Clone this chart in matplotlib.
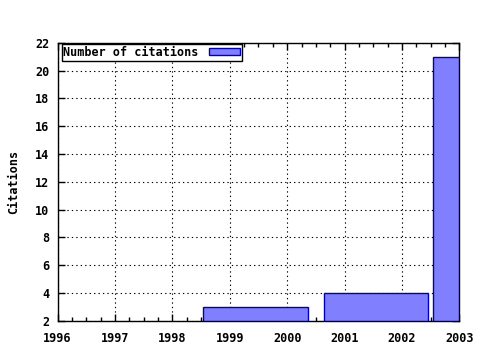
import matplotlib

matplotlib.use("Agg")
import matplotlib.pyplot
from matplotlib.ticker import MultipleLocator

# x positions of the boxes (mid-year dates)
box_dates = [1999.45, 2001.55, 2003.45]
citations = [3, 4, 21]
x_ticks = [1996, 1997, 1998, 1999, 2000, 2001, 2002, 2003]
y_ticks = [2, 4, 6, 8, 10, 12, 14, 16, 18, 20, 22]

matplotlib.pyplot.rcParams.update({
    "font.family": "DejaVu Sans Mono",
    "font.weight": "bold",
    "font.size": 8.5,
})

fig = matplotlib.pyplot.figure(figsize=(4.8, 3.5), dpi=100)
ax = fig.add_axes([0.120, 0.0837, 0.837, 0.7943])

ax.bar(box_dates, citations, width=1.82, color="#8080ff", edgecolor="#0000b0",
       linewidth=1.0, label="Number of citations", zorder=2)

ax.set_xlim(1996, 2003)
ax.set_ylim(2, 22)
ax.set_xticks(x_ticks)
ax.set_yticks(y_ticks)
ax.xaxis.set_minor_locator(MultipleLocator(0.25))

ax.grid(True, which="major", color="black", linestyle=(0, (1.2, 2.8)), linewidth=0.8, zorder=1)
ax.tick_params(which="both", direction="in", top=True, right=True, color="black")
ax.tick_params(which="major", length=5, width=1)
ax.tick_params(which="minor", length=3, width=1)
ax.tick_params(axis="x", pad=8)
ax.tick_params(axis="y", pad=6)
for sp in ax.spines.values():
    sp.set_linewidth(1.0)
    sp.set_color("black")
    sp.set_zorder(3)

for lbl in ax.get_xticklabels() + ax.get_yticklabels():
    lbl.set_fontweight("bold")

ax.set_ylabel("Citations", fontweight="bold", labelpad=11)

leg = ax.legend(loc="upper left", bbox_to_anchor=(0.01, 0.995), markerfirst=False,
                frameon=True, fancybox=False, shadow=False, borderpad=0.15,
                handlelength=2.6, handleheight=0.5, handletextpad=0.9,
                borderaxespad=0.0, prop={"family": "DejaVu Sans Mono", "weight": "bold", "size": 8.5})
leg.get_frame().set_edgecolor("black")
leg.get_frame().set_linewidth(1.0)
leg.get_frame().set_alpha(1.0)

fig.savefig("out.png", dpi=100)
